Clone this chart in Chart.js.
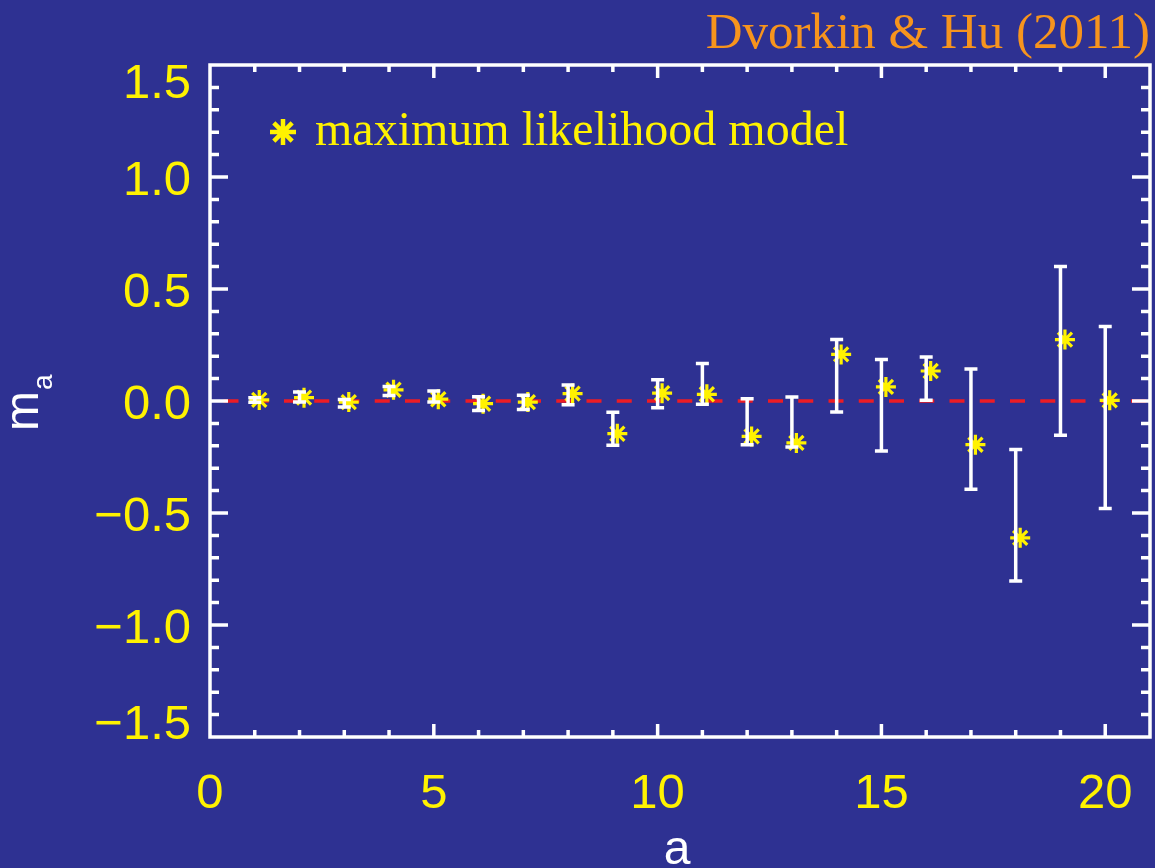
<!DOCTYPE html>
<html>
<head>
<meta charset="utf-8">
<title>Dvorkin &amp; Hu (2011)</title>
<script src="https://cdn.jsdelivr.net/npm/chart.js@4/dist/chart.umd.min.js"></script>
<style>
  html, body { margin: 0; padding: 0; background: #2e3192; }
  #wrap { width: 1155px; height: 868px; position: relative; }
  canvas { display: block; }
</style>
</head>
<body>
<div id="wrap"><canvas id="chart" width="1155" height="868"></canvas></div>
<script>
// Mode index a and the maximum likelihood amplitudes m_a
const modeIndex = [1, 2, 3, 4, 5, 6, 7, 8, 9, 10, 11, 12, 13, 14, 15, 16, 17, 18, 19, 20];
const mlValues  = [0.005, 0.015, -0.005, 0.05, 0.008, -0.012, -0.005, 0.033, -0.146, 0.035,
                   0.03, -0.158, -0.187, 0.208, 0.063, 0.134, -0.195, -0.611, 0.274, 0.003];
// Lower and upper ends of the error bars
const errLow    = [-0.006, -0.005, -0.027, 0.025, -0.005, -0.042, -0.038, -0.017, -0.198, -0.03,
                   -0.015, -0.195, -0.205, -0.049, -0.223, 0.003, -0.394, -0.804, -0.153, -0.48];
const errHigh   = [0.014, 0.04, 0.007, 0.065, 0.045, 0.019, 0.026, 0.071, -0.05, 0.095,
                   0.167, 0.01, 0.018, 0.274, 0.185, 0.196, 0.143, -0.216, 0.601, 0.333];
// Axis tick labels
const xTickLabels = ['0', '5', '10', '15', '20'];
const yTickLabels = ['1.5', '1.0', '0.5', '0.0', '\u22120.5', '\u22121.0', '\u22121.5'];
// Horizontal shift of the model markers relative to their error bars
const markerShift = 0.1;

const YELLOW = '#fff200';
const WHITE = '#ffffff';
const RED = '#ed1c24';
const ORANGE = '#f7941d';
const SANS = '"Liberation Sans", Arial, sans-serif';
const SERIF = '"Liberation Serif", "Times New Roman", serif';

function labelValue(s) { return Number(s.replace('\u2212', '-')); }

function drawAsterisk(ctx, x, y, r, lw, color) {
  ctx.save();
  ctx.strokeStyle = color;
  ctx.lineWidth = lw;
  ctx.beginPath();
  for (let k = 0; k < 4; k++) {
    const ang = k * Math.PI / 4;
    const dx = Math.cos(ang) * r, dy = Math.sin(ang) * r;
    ctx.moveTo(x - dx, y - dy);
    ctx.lineTo(x + dx, y + dy);
  }
  ctx.stroke();
  ctx.restore();
}

// Error bars with caps, drawn over the markers
const errorBarPlugin = {
  id: 'errorBars',
  afterDatasetsDraw(chart) {
    const { ctx, scales: { x, y } } = chart;
    ctx.save();
    ctx.strokeStyle = WHITE;
    ctx.lineWidth = 3.5;
    const cap = 6.5;
    modeIndex.forEach((a, i) => {
      const px = x.getPixelForValue(a);
      const lo = y.getPixelForValue(errLow[i]);
      const hi = y.getPixelForValue(errHigh[i]);
      ctx.beginPath();
      ctx.moveTo(px, lo); ctx.lineTo(px, hi);
      ctx.moveTo(px - cap, lo); ctx.lineTo(px + cap, lo);
      ctx.moveTo(px - cap, hi); ctx.lineTo(px + cap, hi);
      ctx.stroke();
    });
    ctx.restore();
  }
};

// Box frame with inward ticks on all four sides, tick labels, titles and legend
const framePlugin = {
  id: 'frame',
  afterDraw(chart) {
    const { ctx, chartArea: ca, scales: { x, y } } = chart;
    ctx.save();
    ctx.strokeStyle = WHITE;
    ctx.lineWidth = 3.5;
    ctx.lineCap = 'butt';

    ctx.beginPath();
    x.ticks.forEach(t => {
      const v = t.value;
      if (v <= x.min || v >= x.max) return;
      const px = x.getPixelForValue(v);
      const len = (Math.abs(v % 5) < 1e-6) ? 13 : 7;
      ctx.moveTo(px, ca.bottom); ctx.lineTo(px, ca.bottom - len);
      ctx.moveTo(px, ca.top); ctx.lineTo(px, ca.top + len);
    });
    y.ticks.forEach(t => {
      const v = t.value;
      if (v <= y.min + 1e-9 || v >= y.max - 1e-9) return;
      const py = y.getPixelForValue(v);
      const major = Math.abs(v * 2 - Math.round(v * 2)) < 1e-6;
      const len = major ? 18 : 9;
      ctx.moveTo(ca.left, py); ctx.lineTo(ca.left + len, py);
      ctx.moveTo(ca.right, py); ctx.lineTo(ca.right - len, py);
    });
    ctx.stroke();

    ctx.beginPath();
    ctx.rect(ca.left, ca.top, ca.right - ca.left, ca.bottom - ca.top);
    ctx.stroke();

    // Tick labels
    const fs = 49;
    const capH = fs * 0.716;
    ctx.fillStyle = YELLOW;
    ctx.font = fs + 'px ' + SANS;
    ctx.textBaseline = 'alphabetic';
    ctx.textAlign = 'center';
    xTickLabels.forEach(s => {
      ctx.fillText(s, x.getPixelForValue(labelValue(s)), ca.bottom + 70.5);
    });
    ctx.textAlign = 'right';
    yTickLabels.forEach(s => {
      let cy = y.getPixelForValue(labelValue(s));
      cy = Math.min(Math.max(cy, ca.top + 15), ca.bottom - 16);
      ctx.fillText(s, ca.left - 19, cy + capH / 2);
    });

    // Axis titles
    ctx.fillStyle = WHITE;
    ctx.textAlign = 'center';
    ctx.font = '48px ' + SANS;
    ctx.fillText('a', (ca.left + ca.right) / 2 - 3, 864);

    ctx.save();
    ctx.translate(38, 431);
    ctx.rotate(-Math.PI / 2);
    ctx.textAlign = 'left';
    ctx.font = '48px ' + SANS;
    ctx.fillText('m', 0, 0);
    const mw = ctx.measureText('m').width;
    ctx.font = '28px ' + SANS;
    ctx.fillText('a', mw + 1, 14);
    ctx.restore();

    // Legend inside the plot
    drawAsterisk(ctx, 283, 132, 13, 4.5, YELLOW);
    ctx.fillStyle = YELLOW;
    ctx.textAlign = 'left';
    ctx.font = '48px ' + SERIF;
    ctx.fillText('maximum likelihood model', 315, 145);

    // Citation in the top right corner
    ctx.fillStyle = ORANGE;
    ctx.textAlign = 'right';
    ctx.font = '51px ' + SERIF;
    ctx.fillText('Dvorkin & Hu (2011)', 1150, 48);

    ctx.restore();
  }
};

const chart = new Chart(document.getElementById('chart'), {
  type: 'scatter',
  data: {
    datasets: [
      {
        label: 'maximum likelihood model',
        data: modeIndex.map((a, i) => ({ x: a + markerShift, y: mlValues[i] })),
        pointStyle: 'star',
        pointRadius: 10,
        pointHoverRadius: 10,
        pointBorderWidth: 3.2,
        borderColor: YELLOW,
        backgroundColor: YELLOW,
        showLine: false,
        order: 1
      },
      {
        label: 'zero',
        type: 'line',
        data: [{ x: 0, y: 0 }, { x: 21, y: 0 }],
        borderColor: RED,
        borderWidth: 3.5,
        borderDash: [15, 15.25],
        borderDashOffset: 16.75,
        pointRadius: 0,
        fill: false,
        order: 2
      }
    ]
  },
  options: {
    responsive: false,
    devicePixelRatio: 1,
    animation: false,
    events: [],
    layout: { autoPadding: false, padding: { top: 65, right: 5, left: 0, bottom: 0 } },
    plugins: {
      legend: { display: false },
      tooltip: { enabled: false },
      title: { display: false }
    },
    scales: {
      x: {
        type: 'linear',
        min: 0,
        max: 21,
        ticks: { display: false, stepSize: 1, autoSkip: false },
        grid: { display: false, drawTicks: false },
        border: { display: false },
        afterFit(s) { s.height = 131; }
      },
      y: {
        type: 'linear',
        min: -1.5,
        max: 1.5,
        ticks: { display: false, stepSize: 0.1, autoSkip: false },
        grid: { display: false, drawTicks: false },
        border: { display: false },
        afterFit(s) { s.width = 210; }
      }
    }
  },
  plugins: [errorBarPlugin, framePlugin]
});
</script>
</body>
</html>
